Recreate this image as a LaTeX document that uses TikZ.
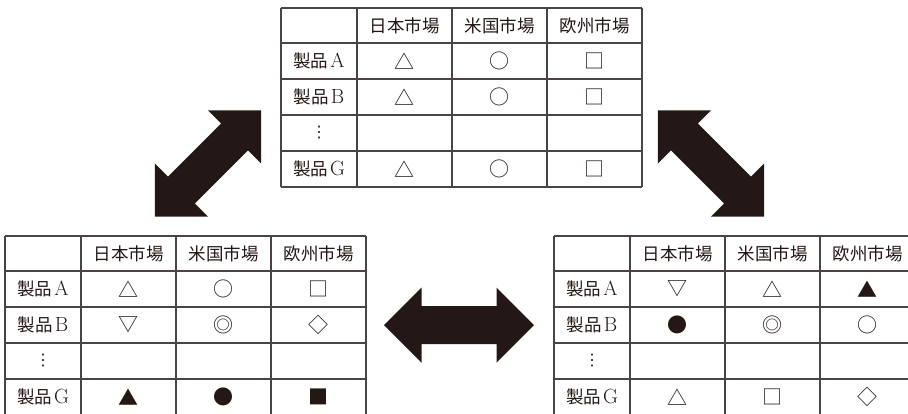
\documentclass[tikz,border=0pt]{standalone}
\usepackage{fontspec}
\newfontfamily\cjk{Noto Sans CJK JP}
\newfontfamily\dvs{DejaVu Sans}
\definecolor{ink}{HTML}{231815}
\definecolor{rulec}{HTML}{4A4443}
\newcommand{\prodlabel}[1]{{\cjk 製品}\hspace{2pt}{\fontsize{20.5}{22}\selectfont #1}}
\newcommand{\tablegrid}[1]{%
  \draw[gridline] (0,0) -- (361,0) (0,35) -- (361,35) (0,71) -- (361,71)
        (0,107) -- (361,107) (0,143) -- (361,143) (0,179) -- (361,179);
  \draw[gridline] (0,0) -- (0,179) (76,0) -- (76,179) (171,0) -- (171,179)
        (266,0) -- (266,179) (361,0) -- (361,179);
  \node[cell] (#1-jp) at (123.5,17.5) {\cjk 日本市場};
  \node[cell] (#1-us) at (218.5,17.5) {\cjk 米国市場};
  \node[cell] (#1-eu) at (313.5,17.5) {\cjk 欧州市場};
  \node[cell] (#1-a) at (38,53) {\prodlabel{A}};
  \node[cell] (#1-b) at (38,89) {\prodlabel{B}};
  \node[cell,font=\fontsize{16}{18}\selectfont\dvs] (#1-d) at (38,125) {⋮};
  \node[cell] (#1-g) at (38,161) {\prodlabel{G}};
}
\newcommand{\blockarrow}[3]{% #1 name, #2 centre, #3 angle
  \coordinate (#1) at #2;
  \fill[ink, shift={(#1)}, rotate=#3]
    (-75,0) -- (-37.5,-37.5) -- (-37.5,-19) -- (37.5,-19) -- (37.5,-37.5)
    -- (75,0) -- (37.5,37.5) -- (37.5,19) -- (-37.5,19) -- (-37.5,37.5) -- cycle;
}
\begin{document}
\begin{tikzpicture}[x=1pt,y=-1pt,
  gridline/.style={draw=rulec,line width=1.1pt},
  cell/.style={inner sep=0pt,anchor=center,text=ink,font=\fontsize{17.5}{20}\selectfont},
  sym/.style={cell,font=\fontsize{20}{22}\selectfont\cjk}]
\clip (0,0) rectangle (908,413);
% top table
\begin{scope}[shift={(281,8)}]
  \tablegrid{T}
  \node[sym] (T-a1) at (123.5,53) {△};
  \node[sym] (T-a2) at (218.5,53) {○};
  \node[sym] (T-a3) at (313.5,53) {□};
  \node[sym] (T-b1) at (123.5,89) {△};
  \node[sym] (T-b2) at (218.5,89) {○};
  \node[sym] (T-b3) at (313.5,89) {□};
  \node[sym] (T-g1) at (123.5,161) {△};
  \node[sym] (T-g2) at (218.5,161) {○};
  \node[sym] (T-g3) at (313.5,161) {□};
\end{scope}
% left table
\begin{scope}[shift={(5,236)}]
  \tablegrid{L}
  \node[sym] (L-a1) at (123.5,53) {△};
  \node[sym] (L-a2) at (218.5,53) {○};
  \node[sym] (L-a3) at (313.5,53) {□};
  \node[sym] (L-b1) at (123.5,89) {▽};
  \node[sym] (L-b2) at (218.5,89) {◎};
  \node[sym] (L-b3) at (313.5,89) {◇};
  \node[sym] (L-g1) at (123.5,161) {▲};
  \node[sym] (L-g2) at (218.5,161) {●};
  \node[sym] (L-g3) at (313.5,161) {■};
\end{scope}
% right table
\begin{scope}[shift={(554,236)}]
  \tablegrid{R}
  \node[sym] (R-a1) at (123.5,53) {▽};
  \node[sym] (R-a2) at (218.5,53) {△};
  \node[sym] (R-a3) at (313.5,53) {▲};
  \node[sym] (R-b1) at (123.5,89) {●};
  \node[sym] (R-b2) at (218.5,89) {◎};
  \node[sym] (R-b3) at (313.5,89) {○};
  \node[sym] (R-g1) at (123.5,161) {△};
  \node[sym] (R-g2) at (218.5,161) {□};
  \node[sym] (R-g3) at (313.5,161) {◇};
\end{scope}
% arrows
\blockarrow{arrTL}{(208,163.5)}{45}
\blockarrow{arrTR}{(711,163.5)}{-45}
\blockarrow{arrLR}{(459,325)}{0}
\end{tikzpicture}
\end{document}
